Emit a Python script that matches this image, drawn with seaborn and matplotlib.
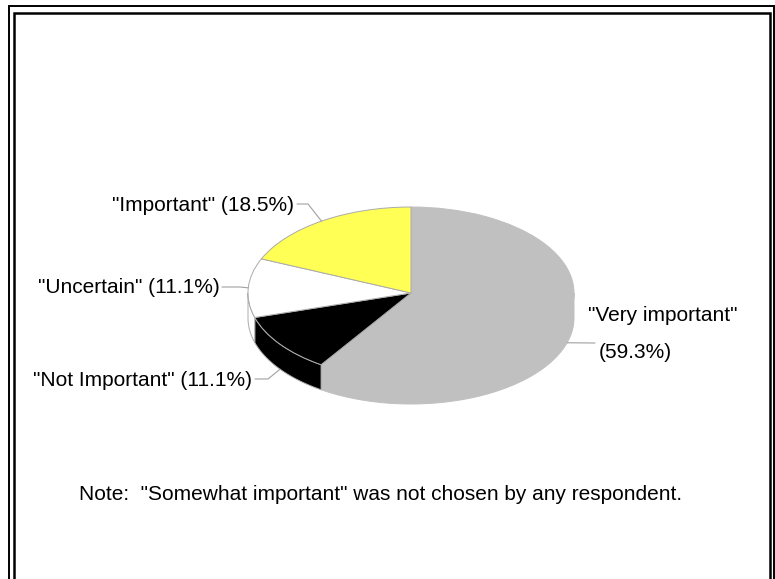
import numpy as np
import matplotlib
matplotlib.use("Agg")
import matplotlib.pyplot as plt
from matplotlib.patches import Polygon
import seaborn as sns

# ~~~ data: slices go clockwise from 12 o'clock ~~~
labels = ['"Very important"', '"Not Important"', '"Uncertain"', '"Important"']
percents = [59.3, 11.1, 11.1, 18.5]
colors = ['#C0C0C0', '#000000', '#FFFFFF', '#FFFF55']
note = 'Note:  "Somewhat important" was not chosen by any respondent.'

# ~~~ layout (pixels of the 775x579 page) ~~~
W, H = 775, 579
CX, CY = 411, 293      # centre of the pie top
RX, RY = 163, 86       # half axes of the tilted pie
DEPTH = 25 / RY        # pie thickness in pie units
EDGE = '#ABABAB'
# grey slice has no visible outline in the original
edges = [colors[0], EDGE, EDGE, EDGE]

sns.set_style('white')
plt.rcParams['font.family'] = ['Liberation Sans', 'DejaVu Sans']
plt.rcParams['text.color'] = 'black'

fig = plt.figure(figsize=(W / 100, H / 100), dpi=100)
ax = fig.add_axes([0, 0, 1, 1])


def px(x, y):
    """page pixel -> pie units"""
    return (x - CX) / RX, (CY - y) / RY


# top face: a normal pie squashed by the axes scale
wedges, _ = ax.pie(percents, colors=colors, startangle=90, counterclock=False,
                   frame=True, wedgeprops=dict(linewidth=0.7, zorder=2))
for w, ec in zip(wedges, edges):
    w.set_edgecolor(ec)

# side wall, only the front half (angles -180..0) can be seen
bounds = 90 - np.cumsum([0] + percents) * 3.6
for i in range(len(percents)):
    lo, hi = max(bounds[i + 1], -180), min(bounds[i], 0)
    if lo >= hi:
        continue
    t = np.radians(np.linspace(lo, hi, 80))
    top = np.c_[np.cos(t), np.sin(t)]
    bottom = top[::-1] - [0, DEPTH]
    ax.add_patch(Polygon(np.r_[top, bottom], closed=True, facecolor=colors[i],
                         edgecolor=edges[i], linewidth=0.7, zorder=1))

# labels with leader lines; end of the leader sits on the slice middle
mids = np.radians((bounds[:-1] + bounds[1:]) / 2)
label_pos = [(588, 315), (252, 380), (220, 287), (294, 205)]   # text anchors
knees = [[(595, 343)], [(255, 379), (268, 379)], [(222, 287), (240, 287)],
         [(297, 204), (308, 204)]]
font = 15
for i, (lab, pct) in enumerate(zip(labels, percents)):
    mx, my = np.cos(mids[i]), np.sin(mids[i])
    if my < 0:
        my -= DEPTH
    pts = [px(*k) for k in knees[i]] + [(mx, my)]
    xs, ys = zip(*pts)
    ax.plot(xs, ys, color='#A0A0A0', lw=0.8, zorder=3)
    tx, ty = px(*label_pos[i])
    if i == 0:
        ax.text(tx, ty, lab, fontsize=font, ha='left', va='center')
        ax.text(*px(599, 352), f'({pct}%)', fontsize=font, ha='left', va='center')
    else:
        ax.text(tx, ty, f'{lab} ({pct}%)', fontsize=font, ha='right', va='center')

ax.text(*px(381, 494), note, fontsize=font, ha='center', va='center')

# double frame round the page
for x0, y0, x1, lw in [(9, 6, 774, 1.4), (14, 12.5, 769.5, 1.8)]:
    xs, ys = zip(*[px(x0, 620), px(x0, y0), px(x1, y0), px(x1, 620)])
    ax.plot(xs, ys, color='black', lw=lw, solid_joinstyle='miter')

ax.set_xlim(-CX / RX, (W - CX) / RX)
ax.set_ylim(-(H - CY) / RY, CY / RY)
ax.set_aspect('auto')
ax.axis('off')

fig.savefig('out.png', dpi=100, facecolor='white')
